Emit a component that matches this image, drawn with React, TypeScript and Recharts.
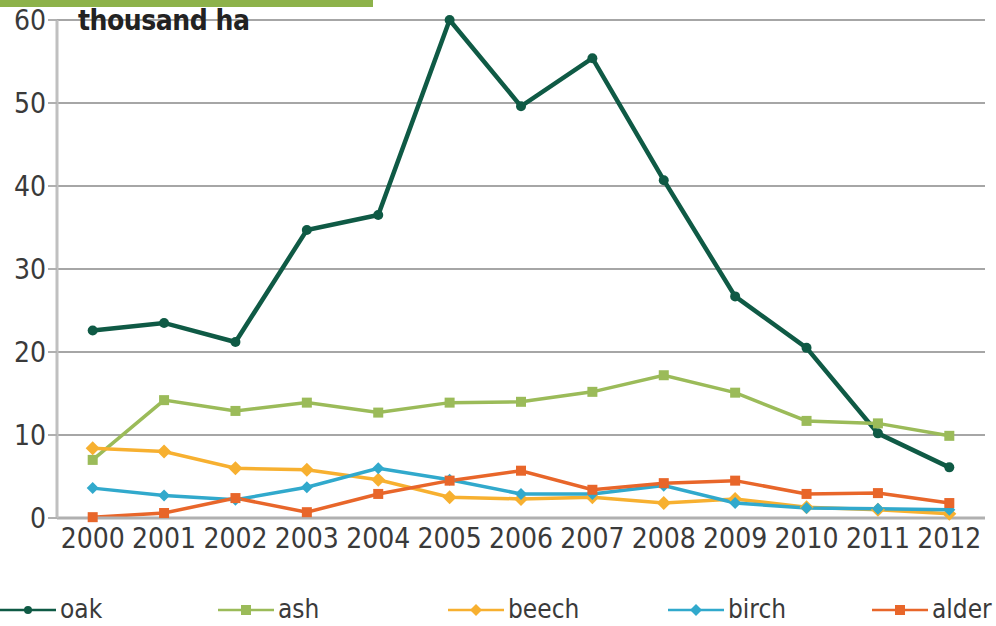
import React from 'react'
import { CartesianGrid, Line, LineChart, XAxis, YAxis } from 'recharts'

const years = [2000, 2001, 2002, 2003, 2004, 2005, 2006, 2007, 2008, 2009, 2010, 2011, 2012]
const oak = [22.6, 23.5, 21.2, 34.7, 36.5, 60, 49.6, 55.4, 40.7, 26.7, 20.5, 10.2, 6.1]
const ash = [7, 14.2, 12.9, 13.9, 12.7, 13.9, 14, 15.2, 17.2, 15.1, 11.7, 11.4, 9.9]
const beech = [8.4, 8, 6, 5.8, 4.6, 2.5, 2.3, 2.5, 1.8, 2.3, 1.3, 1, 0.5]
const birch = [3.6, 2.7, 2.2, 3.7, 6, 4.6, 2.9, 2.9, 3.9, 1.8, 1.2, 1.1, 1]
const alder = [0.1, 0.6, 2.4, 0.7, 2.9, 4.5, 5.7, 3.4, 4.2, 4.5, 2.9, 3, 1.8]
const yTicks = [0, 10, 20, 30, 40, 50, 60]
const boundaryTicks = [1999.5, 2000.5, 2001.5, 2002.5, 2003.5, 2004.5, 2005.5, 2006.5, 2007.5, 2008.5, 2009.5, 2010.5, 2011.5, 2012.5]

const data = years.map((year, i) => ({
  year,
  oak: oak[i],
  ash: ash[i],
  beech: beech[i],
  birch: birch[i],
  alder: alder[i],
}))

const FONT = '"DejaVu Sans", sans-serif'
const tickStyle = { fill: '#3a3a3a', fontSize: 28, fontFamily: FONT, fontStretch: 'condensed' }

type Shape = 'circle' | 'square' | 'diamond'

const series: { key: string; color: string; width: number; shape: Shape; size: number }[] = [
  { key: 'oak', color: '#0f5a45', width: 4.5, shape: 'circle', size: 5 },
  { key: 'ash', color: '#9bbb59', width: 3.5, shape: 'square', size: 5 },
  { key: 'beech', color: '#f7b030', width: 3.5, shape: 'diamond', size: 6 },
  { key: 'birch', color: '#31a9cc', width: 3.5, shape: 'diamond', size: 5 },
  { key: 'alder', color: '#e8662a', width: 3.5, shape: 'square', size: 5 },
]

function marker(shape: Shape, size: number, color: string) {
  return (props: any) => {
    const { cx, cy, index } = props
    if (cx == null || cy == null) return <g key={index} />
    if (shape === 'circle') return <circle key={index} cx={cx} cy={cy} r={size} fill={color} />
    if (shape === 'square')
      return <rect key={index} x={cx - size} y={cy - size} width={size * 2} height={size * 2} fill={color} />
    return (
      <polygon
        key={index}
        points={`${cx},${cy - size - 1} ${cx + size + 1},${cy} ${cx},${cy + size + 1} ${cx - size - 1},${cy}`}
        fill={color}
      />
    )
  }
}

const legendPos = [
  { key: 'oak', x: 0 },
  { key: 'ash', x: 218 },
  { key: 'beech', x: 448 },
  { key: 'birch', x: 668 },
  { key: 'alder', x: 872 },
]

export default function App() {
  return (
    <div style={{ position: 'absolute', left: 0, top: 0, width: 996, height: 626, background: '#fff', fontFamily: FONT }}>
      <div style={{ position: 'absolute', left: 0, top: 0, width: 373, height: 7, background: '#8db24a' }} />
      <LineChart width={996} height={626} data={data} margin={{ top: 20, right: 11, left: 0, bottom: 68 }}>
        <CartesianGrid vertical={false} stroke="#a6a6a6" strokeWidth={2} />
        <XAxis
          dataKey="year"
          type="number"
          domain={[1999.5, 2012.5]}
          ticks={years}
          interval={0}
          tickLine={false}
          axisLine={{ stroke: '#b0b0b0', strokeWidth: 3 }}
          tick={tickStyle}
          tickMargin={4}
          height={40}
        />
        <XAxis
          xAxisId="b"
          dataKey="year"
          type="number"
          domain={[1999.5, 2012.5]}
          ticks={boundaryTicks}
          interval={0}
          tick={false}
          axisLine={false}
          tickLine={{ stroke: '#b0b0b0', strokeWidth: 2 }}
          tickSize={8}
          height={0}
        />
        <YAxis
          domain={[0, 60]}
          ticks={yTicks}
          interval={0}
          width={57}
          tickSize={9}
          tickLine={{ stroke: '#b0b0b0', strokeWidth: 2 }}
          axisLine={{ stroke: '#c0c0c0', strokeWidth: 3 }}
          tick={tickStyle}
          tickMargin={2}
        />
        {series.map((s) => (
          <Line
            key={s.key}
            dataKey={s.key}
            stroke={s.color}
            strokeWidth={s.width}
            dot={marker(s.shape, s.size, s.color)}
            activeDot={false}
            isAnimationActive={false}
            type="linear"
          />
        ))}
      </LineChart>
      <div
        style={{
          position: 'absolute',
          left: 78,
          top: 4,
          fontSize: 28,
          fontWeight: 'bold',
          color: '#222',
          fontFamily: FONT,
          fontStretch: 'condensed',
          letterSpacing: -0.5,
        }}
      >
        thousand ha
      </div>
      {legendPos.map((l) => {
        const s = series.find((x) => x.key === l.key)!
        return (
          <div key={l.key} style={{ position: 'absolute', left: l.x, top: 594, display: 'flex', alignItems: 'center' }}>
            <svg width={56} height={30}>
              <line x1={0} y1={16} x2={56} y2={16} stroke={s.color} strokeWidth={2.5} />
              {s.shape === 'circle' && <circle cx={28} cy={16} r={4} fill={s.color} />}
              {s.shape === 'square' && <rect x={23} y={11} width={10} height={10} fill={s.color} />}
              {s.shape === 'diamond' && <polygon points="28,10 34,16 28,22 22,16" fill={s.color} />}
            </svg>
            <span style={{ fontSize: 26, color: '#3a3a3a', marginLeft: 4, fontStretch: 'condensed' }}>{l.key}</span>
          </div>
        )
      })}
    </div>
  )
}
